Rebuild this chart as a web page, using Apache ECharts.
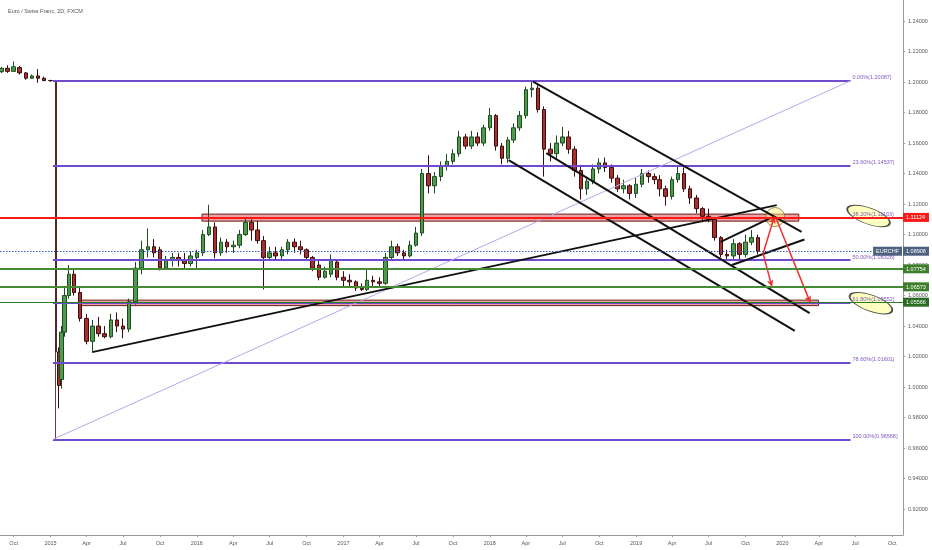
<!DOCTYPE html>
<html><head><meta charset="utf-8">
<script src="https://cdn.jsdelivr.net/npm/echarts@6/dist/echarts.min.js"></script>
<style>html,body{margin:0;padding:0;background:#fff}#c{width:932px;height:550px}</style>
</head><body><div id="c"></div>
<script>
// ---------- DATA ----------
const title = 'Euro / Swiss Franc, 2D, FXCM';
// [date, open, close, low, high]
const candles = [
["2014-09-01",1.2068,1.2090,1.2058,1.2100],["2014-09-16",1.2090,1.2070,1.2060,1.2110],
["2014-10-01",1.2070,1.2100,1.2065,1.2135],["2014-10-16",1.2095,1.2060,1.2050,1.2105],
["2014-11-01",1.2060,1.2025,1.2015,1.2065],["2014-11-16",1.2025,1.2040,1.2020,1.2050],
["2014-12-01",1.2040,1.2025,1.1995,1.2085],["2014-12-16",1.2025,1.2010,1.2005,1.2035],
["2015-01-01",1.2010,1.2009,1.2002,1.2015],
["2015-01-22",1.0230,1.0010,0.9860,1.0260],["2015-01-29",1.0050,1.0360,0.9990,1.0400],
["2015-02-05",1.0360,1.0600,1.0330,1.0650],["2015-02-16",1.0600,1.0740,1.0580,1.0800],
["2015-03-01",1.0740,1.0620,1.0600,1.0770],["2015-03-16",1.0620,1.0450,1.0430,1.0650],
["2015-04-01",1.0450,1.0300,1.0280,1.0480],["2015-04-16",1.0300,1.0400,1.0235,1.0440],
["2015-05-01",1.0400,1.0350,1.0330,1.0460],["2015-05-16",1.0350,1.0330,1.0320,1.0400],
["2015-06-01",1.0330,1.0440,1.0320,1.0480],["2015-06-16",1.0440,1.0400,1.0360,1.0490],
["2015-07-01",1.0400,1.0380,1.0320,1.0450],["2015-07-16",1.0380,1.0560,1.0360,1.0580],
["2015-08-01",1.0560,1.0780,1.0540,1.0820],["2015-08-16",1.0780,1.0900,1.0740,1.0960],
["2015-09-01",1.0900,1.0920,1.0850,1.1040],["2015-09-16",1.0920,1.0880,1.0850,1.0970],
["2015-10-01",1.0900,1.0780,1.0765,1.0920],["2015-10-16",1.0780,1.0830,1.0770,1.0860],
["2015-11-01",1.0830,1.0850,1.0790,1.0880],["2015-11-16",1.0850,1.0830,1.0790,1.0880],
["2015-12-01",1.0830,1.0810,1.0780,1.0880],["2015-12-16",1.0810,1.0860,1.0790,1.0890],
["2016-01-01",1.0850,1.0880,1.0780,1.0900],["2016-01-16",1.0880,1.1000,1.0860,1.1030],
["2016-02-01",1.1000,1.1050,1.0990,1.1195],["2016-02-16",1.1050,1.0880,1.0845,1.1080],
["2016-03-01",1.0880,1.0950,1.0860,1.0980],["2016-03-16",1.0950,1.0920,1.0880,1.0970],
["2016-04-01",1.0920,1.0930,1.0880,1.0960],["2016-04-16",1.0930,1.1000,1.0910,1.1030],
["2016-05-01",1.1000,1.1080,1.0990,1.1110],["2016-05-16",1.1080,1.1030,1.0960,1.1100],
["2016-06-01",1.1030,1.0960,1.0940,1.1090],["2016-06-16",1.0960,1.0850,1.0640,1.0990],
["2016-07-01",1.0850,1.0880,1.0830,1.0920],["2016-07-16",1.0880,1.0860,1.0830,1.0920],
["2016-08-01",1.0860,1.0900,1.0840,1.0920],["2016-08-16",1.0900,1.0950,1.0870,1.0970],
["2016-09-01",1.0950,1.0920,1.0880,1.0975],["2016-09-16",1.0920,1.0900,1.0870,1.0960],
["2016-10-01",1.0900,1.0850,1.0830,1.0910],["2016-10-16",1.0850,1.0780,1.0760,1.0860],
["2016-11-01",1.0800,1.0720,1.0700,1.0830],["2016-11-16",1.0720,1.0760,1.0710,1.0790],
["2016-12-01",1.0740,1.0830,1.0720,1.0870],["2016-12-16",1.0820,1.0720,1.0700,1.0830],
["2017-01-01",1.0720,1.0700,1.0660,1.0760],["2017-01-16",1.0700,1.0690,1.0650,1.0740],
["2017-02-01",1.0690,1.0650,1.0630,1.0700],["2017-02-16",1.0650,1.0640,1.0630,1.0680],
["2017-03-01",1.0640,1.0700,1.0630,1.0770],["2017-03-16",1.0700,1.0690,1.0660,1.0730],
["2017-04-01",1.0690,1.0680,1.0660,1.0720],["2017-04-16",1.0680,1.0850,1.0670,1.0880],
["2017-05-01",1.0850,1.0920,1.0840,1.0960],["2017-05-16",1.0920,1.0880,1.0860,1.0940],
["2017-06-01",1.0880,1.0860,1.0830,1.0900],["2017-06-16",1.0860,1.0930,1.0850,1.0960],
["2017-07-01",1.0930,1.1010,1.0920,1.1050],["2017-07-16",1.1010,1.1400,1.0990,1.1430],
["2017-08-01",1.1400,1.1320,1.1270,1.1520],["2017-08-16",1.1320,1.1380,1.1270,1.1410],
["2017-09-01",1.1380,1.1450,1.1350,1.1480],["2017-09-16",1.1450,1.1480,1.1420,1.1530],
["2017-10-01",1.1480,1.1530,1.1460,1.1560],["2017-10-16",1.1530,1.1640,1.1510,1.1680],
["2017-11-01",1.1640,1.1580,1.1560,1.1660],["2017-11-16",1.1580,1.1640,1.1560,1.1680],
["2017-12-01",1.1640,1.1600,1.1580,1.1670],["2017-12-16",1.1600,1.1700,1.1580,1.1720],
["2018-01-01",1.1700,1.1780,1.1680,1.1830],["2018-01-16",1.1780,1.1580,1.1550,1.1790],
["2018-02-01",1.1580,1.1500,1.1460,1.1600],["2018-02-16",1.1500,1.1620,1.1470,1.1640],
["2018-03-01",1.1620,1.1700,1.1600,1.1730],["2018-03-16",1.1700,1.1780,1.1680,1.1810],
["2018-04-01",1.1780,1.1950,1.1760,1.1970],["2018-04-16",1.1950,1.1960,1.1900,1.2005],
["2018-05-01",1.1960,1.1820,1.1800,1.1980],["2018-05-16",1.1820,1.1560,1.1380,1.1840],
["2018-06-01",1.1560,1.1530,1.1480,1.1600],["2018-06-16",1.1530,1.1600,1.1500,1.1650],
["2018-07-01",1.1600,1.1640,1.1580,1.1705],["2018-07-16",1.1640,1.1560,1.1530,1.1680],
["2018-08-01",1.1560,1.1420,1.1380,1.1580],["2018-08-16",1.1420,1.1300,1.1230,1.1450],
["2018-09-01",1.1300,1.1350,1.1260,1.1380],["2018-09-16",1.1350,1.1430,1.1330,1.1460],
["2018-10-01",1.1430,1.1470,1.1400,1.1500],["2018-10-16",1.1470,1.1440,1.1410,1.1505],
["2018-11-01",1.1440,1.1370,1.1340,1.1460],["2018-11-16",1.1370,1.1300,1.1280,1.1390],
["2018-12-01",1.1300,1.1320,1.1270,1.1360],["2018-12-16",1.1320,1.1270,1.1230,1.1330],
["2019-01-01",1.1270,1.1330,1.1240,1.1370],["2019-01-16",1.1330,1.1400,1.1310,1.1430],
["2019-02-01",1.1400,1.1380,1.1340,1.1420],["2019-02-16",1.1380,1.1360,1.1330,1.1400],
["2019-03-01",1.1360,1.1300,1.1250,1.1390],["2019-03-16",1.1300,1.1250,1.1190,1.1320],
["2019-04-01",1.1250,1.1360,1.1230,1.1380],["2019-04-16",1.1360,1.1400,1.1340,1.1450],
["2019-05-01",1.1400,1.1300,1.1280,1.1440],["2019-05-16",1.1300,1.1240,1.1200,1.1320],
["2019-06-01",1.1240,1.1170,1.1140,1.1260],["2019-06-16",1.1170,1.1120,1.1080,1.1180],
["2019-07-01",1.1120,1.1100,1.1080,1.1170],["2019-07-16",1.1100,1.0980,1.0960,1.1110],
["2019-08-01",1.0980,1.0870,1.0850,1.0990],["2019-08-16",1.0870,1.0860,1.0830,1.0900],
["2019-09-01",1.0860,1.0940,1.0840,1.0970],["2019-09-16",1.0940,1.0870,1.0830,1.0950],
["2019-10-01",1.0870,1.0950,1.0850,1.1000],["2019-10-16",1.0950,1.0980,1.0930,1.1030],
["2019-11-01",1.0980,1.0891,1.0870,1.1000]
];
// SNB floor removal candle (drawn thin)
const crashCandle = ["2015-01-15",1.2009,1.0230,0.9657,1.2012];
const xTickDates = ["2014-10-01","2015-01-01","2015-04-01","2015-07-01","2015-10-01","2016-01-01","2016-04-01","2016-07-01","2016-10-01","2017-01-01","2017-04-01","2017-07-01","2017-10-01","2018-01-01","2018-04-01","2018-07-01","2018-10-01","2019-01-01","2019-04-01","2019-07-01","2019-10-01","2020-01-01","2020-04-01","2020-07-01","2020-10-01"];
const monthNames = ['Jan','Feb','Mar','Apr','May','Jun','Jul','Aug','Sep','Oct','Nov','Dec'];
const yTickValues = [0.92,0.94,0.96,0.98,1.00,1.02,1.04,1.06,1.08,1.10,1.12,1.14,1.16,1.18,1.20,1.22,1.24];
// Fibonacci retracement
const fibPercents = ["0.00%","23.60%","38.20%","50.00%","61.80%","78.60%","100.00%"];
const fibPrices = [1.20087,1.14537,1.11103,1.08328,1.05552,1.01601,0.96568];
const fibStart = "2015-01-07", fibEnd = "2020-06-19";
// horizontal price levels / tags
const redLevel = 1.11124;
const lastPrice = 1.08908;
const greenLevels = [1.07754,1.06573,1.05566];
// trend lines [fromDate, fromPrice, toDate, toPrice]
const trendLines = [
  ["2015-04-15",1.0229,"2019-12-18",1.1193],
  ["2018-04-19",1.2002,"2020-02-18",1.1018],
  ["2018-05-22",1.1534,"2020-03-09",1.0485],
  ["2018-02-17",1.1488,"2020-02-01",1.0369],
  ["2019-08-28",1.0800,"2020-02-25",1.0968],
  ["2019-07-31",1.0952,"2019-12-03",1.1110]
];
const arrows = [
  ["2019-11-14",1.0876,"2019-12-12",1.1118],
  ["2019-12-15",1.1115,"2020-03-11",1.0552],
  ["2019-11-14",1.0876,"2019-12-06",1.0657]
];
const zones = [
  ["2016-01-14",1.1134,"2020-02-11",1.1088],
  ["2015-03-19",1.0570,"2020-03-31",1.0534]
];
const circlePoint = ["2019-12-14",1.1115];
const ellipsePoints = [["2020-08-03",1.1122],["2020-08-09",1.0550]];
const xMin = "2014-08-28", xMax = "2020-10-28";
const yMin = 0.903, yMax = 1.2538;

// ---------- CHART ----------
const ts = s => { const p = s.split('-').map(Number); return Date.UTC(p[0], p[1]-1, p[2]); };
const FONT = 'Liberation Sans';
const FS = 5.5;
const xTicks = xTickDates.map(ts);

const fibColor = '#6f4bd0';
const greenColor = '#458a35';

const lineItems = [];
fibPrices.forEach((p, i) => {
  lineItems.push([
    {coord:[ts(fibStart), p]},
    {coord:[ts(fibEnd), p],
     label:{show:true, position:'end', distance:2, formatter: fibPercents[i] + '(' + p.toFixed(5) + ')',
            color:'#7e57c2', fontSize:FS, fontFamily:FONT, verticalAlign:'bottom'},
     lineStyle:{color:fibColor, width:2, type:'solid'}}
  ]);
});
lineItems.push([
  {coord:[ts(fibStart), fibPrices[fibPrices.length-1]]},
  {coord:[ts(fibEnd), fibPrices[0]], lineStyle:{color:'#b9a6ea', width:1, type:'solid'}}
]);
trendLines.forEach(t => {
  lineItems.push([{coord:[ts(t[0]), t[1]]},{coord:[ts(t[2]), t[3]], lineStyle:{color:'#111', width:2, type:'solid'}}]);
});
arrows.forEach(a => {
  lineItems.push([{coord:[ts(a[0]), a[1]], symbol:'none'},
                  {coord:[ts(a[2]), a[3]], symbol:'arrow', symbolSize:[5,7], lineStyle:{color:'#f23030', width:1.5, type:'solid'}}]);
});
lineItems.push({yAxis: redLevel, lineStyle:{color:'#ff1a1a', width:2, type:'solid'}});
lineItems.push({yAxis: lastPrice, lineStyle:{color:'#2b5cb8', width:1, type:[1.5,1.5]}});
greenLevels.forEach((g, i) => {
  lineItems.push({yAxis: g, lineStyle:{color: i===2 ? '#2a7a22' : greenColor, width: i===2 ? 1.2 : 2, type:'solid'}});
});

const areaItems = zones.map(z => [{coord:[ts(z[0]), z[1]]},{coord:[ts(z[2]), z[3]]}]);

const tagValues = [redLevel, lastPrice].concat(greenLevels);
const tagStyles = ['#ff1a1a','#4d6180','#3d7f2d','#3d7f2d','#2b6b22'];
const rich = {};
tagStyles.forEach((c, i) => {
  rich['t'+i] = {backgroundColor:c, color:'#fff', fontSize:FS, fontFamily:FONT, padding:[2,2,1,3], width:21};
});

const candleStyle = {color:'#4e9a4e', color0:'#a8302c', borderColor:'#1d4d1d', borderColor0:'#3d0d0d', borderWidth:1};

const chart = echarts.init(document.getElementById('c'), null, {renderer:'canvas'});
chart.setOption({
  animation:false,
  backgroundColor:'#ffffff',
  title:{text:title, left:3, top:3, textStyle:{fontSize:FS, color:'#555', fontWeight:'normal', fontFamily:FONT}},
  grid:{left:0, right:24, top:0, bottom:15, containLabel:false},
  xAxis:{
    type:'value', min:ts(xMin), max:ts(xMax),
    axisLine:{show:true, lineStyle:{color:'#9a9a9a'}},
    axisTick:{show:true, customValues:xTicks, length:2, lineStyle:{color:'#9a9a9a'}},
    axisLabel:{customValues:xTicks, margin:5, fontSize:FS, color:'#555', fontFamily:FONT,
      formatter: v => { const d = new Date(v); const m = d.getUTCMonth(); return m === 0 ? String(d.getUTCFullYear()) : monthNames[m]; }},
    splitLine:{show:false}
  },
  yAxis:[
    {type:'value', position:'right', min:yMin, max:yMax,
     axisLine:{show:true, lineStyle:{color:'#9a9a9a'}},
     axisTick:{show:true, customValues:yTickValues, length:2, lineStyle:{color:'#9a9a9a'}},
     axisLabel:{customValues:yTickValues, margin:5, fontSize:FS, color:'#555', fontFamily:FONT, formatter: v => v.toFixed(5)},
     splitLine:{show:false}},
    {type:'value', position:'right', min:yMin, max:yMax, z:20,
     axisLine:{show:false}, axisTick:{show:false}, splitLine:{show:false},
     axisLabel:{customValues:tagValues, margin:0, rich:rich,
       formatter: v => { let k = 0; tagValues.forEach((t, i) => { if (Math.abs(t - v) < 1e-7) k = i; }); return '{t'+k+'|'+tagValues[k].toFixed(5)+'}'; }}},
    {type:'value', position:'right', min:yMin, max:yMax, z:20,
     axisLine:{show:false}, axisTick:{show:false}, splitLine:{show:false},
     axisLabel:{customValues:[lastPrice], inside:true, margin:1,
       rich:{n:{backgroundColor:'#4d6180', color:'#fff', fontSize:FS, fontFamily:FONT, padding:[2,3,1,3]}},
       formatter: () => '{n|EURCHF}'}}
  ],
  series:[
    {type:'line', data:[], z:1, silent:true,
     markArea:{silent:true, itemStyle:{color:'rgba(226,86,86,0.55)', borderColor:'#6b1f1f', borderWidth:1}, data:areaItems}},
    {type:'candlestick', z:2, silent:true,
     data:candles.map(c => [ts(c[0]), c[1], c[2], c[3], c[4]]),
     encode:{x:0, y:[1,2,3,4]},
     barWidth:4, itemStyle:candleStyle},
    {type:'candlestick', z:2, silent:true,
     data:[[ts(crashCandle[0]), crashCandle[1], crashCandle[2], crashCandle[3], crashCandle[4]]],
     encode:{x:0, y:[1,2,3,4]},
     barWidth:1.5, itemStyle:{color:'#4e9a4e', color0:'#6b1a16', borderColor:'#1d4d1d', borderColor0:'#3d0d0d', borderWidth:0.8}},
    {type:'line', data:[], z:3, silent:true,
     markLine:{silent:true, precision:5, symbol:['none','none'], animation:false, label:{show:false}, data:lineItems}},
    {type:'scatter', z:4, silent:true, symbol:'circle',
     data:[{value:[ts(circlePoint[0]), circlePoint[1]], symbolSize:[19,19], symbolRotate:0,
            itemStyle:{color:'rgba(255,240,130,0.6)', borderColor:'#7a7a30', borderWidth:1}}]
       .concat(ellipsePoints.map(e => ({value:[ts(e[0]), e[1]], symbolSize:[45,16], symbolRotate:-20,
            itemStyle:{color:'rgba(255,255,150,0.75)', borderColor:'#222', borderWidth:1.2}})))}
  ]
});
</script></body></html>
